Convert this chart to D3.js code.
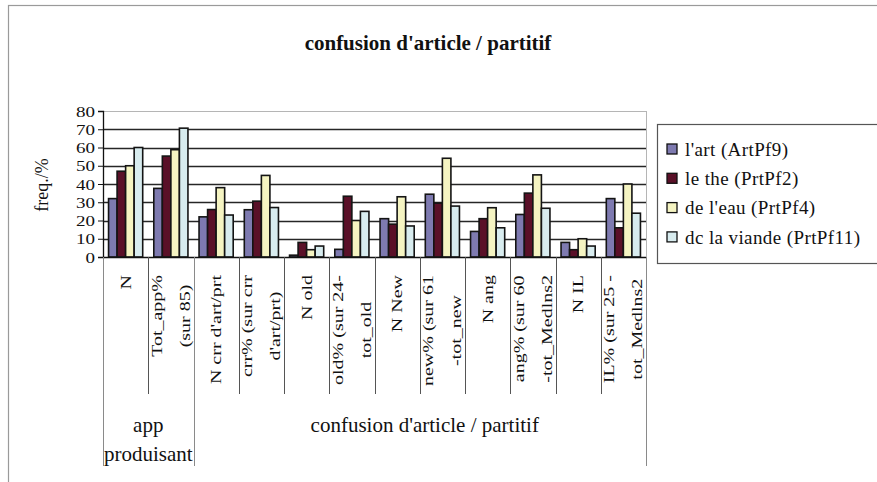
<!DOCTYPE html>
<html>
<head>
<meta charset="utf-8">
<script src="https://cdn.jsdelivr.net/npm/d3@7"></script>
<style>
  html, body { margin: 0; padding: 0; background: #ffffff; }
  svg { display: block; }
  text { font-family: "Liberation Serif", "Times New Roman", serif; fill: #111; }
</style>
</head>
<body>
<svg id="chart" width="877" height="482"></svg>
<script>
// ---- data ----
const chartTitle = "confusion d'article / partitif";
const yTitle = "freq./%";
// category labels; "\n" marks a line break in the rotated label
const categories = [
  "N",
  "Tot_app%\n(sur 85)",
  "N crr d'art/prt",
  "crr% (sur crr\nd'art/prt)",
  "N old",
  "old% (sur 24-\ntot_old",
  "N New",
  "new% (sur 61\n-tot_new",
  "N ang",
  "ang% (sur 60\n-tot_Medlns2",
  "N IL",
  "IL% (sur 25 -\ntot_Medlns2"
];
// outer category level: label and number of categories covered
const groupLabels = ["app\nproduisant", "confusion d'article / partitif"];
const groupSpans = [2, 10];

const seriesNames = ["l'art (ArtPf9)", "le the (PrtPf2)", "de l'eau (PrtPf4)", "dc la viande (PrtPf11)"];
const artPf9   = [32, 37.6, 22, 25.9, 1, 4.2, 21, 34.4, 14, 23.3, 8, 32];
const prtPf2   = [47, 55.3, 26, 30.6, 8, 33.3, 18, 29.5, 21, 35.0, 4, 16];
const prtPf4   = [50, 58.8, 38, 44.7, 4, 20.0, 33, 54.1, 27, 45.0, 10, 40];
const prtPf11  = [60, 70.6, 23, 27.1, 6, 25.0, 17, 27.9, 16, 26.7, 6, 24];
const seriesValues = [artPf9, prtPf2, prtPf4, prtPf11];
const yTicks = [0, 10, 20, 30, 40, 50, 60, 70, 80];

// ---- layout ----
const svg = d3.select("#chart");
const plot = { left: 103, right: 646, top: 111, bottom: 257 };
const colors = ["#7e7ab0", "#5a1028", "#f5f4c2", "#d8ecef"];

// outer chart frame
svg.append("rect")
  .attr("x", 8.5).attr("y", 5.5).attr("width", 880).attr("height", 490)
  .attr("fill", "none").attr("stroke", "#9a9a9a").attr("stroke-width", 1.2);

// title
svg.append("text")
  .attr("x", 428).attr("y", 50)
  .attr("text-anchor", "middle")
  .style("font-size", "21px").style("font-weight", "bold")
  .text(chartTitle);

const x0 = d3.scaleBand().domain(d3.range(categories.length))
  .range([plot.left, plot.right]).paddingInner(0).paddingOuter(0);
const x1 = d3.scaleBand().domain(d3.range(seriesNames.length))
  .range([0, x0.bandwidth()]).paddingInner(0).paddingOuter(0.65);
const y = d3.scaleLinear().domain([0, 80]).range([plot.bottom, plot.top]);

// horizontal gridlines
svg.append("g").selectAll("line")
  .data(yTicks.filter(t => t > 0))
  .join("line")
  .attr("x1", plot.left).attr("x2", plot.right)
  .attr("y1", d => Math.round(y(d)) + 0.5).attr("y2", d => Math.round(y(d)) + 0.5)
  .attr("stroke", d => d === 80 ? "#b5b5b5" : "#262626")
  .attr("stroke-width", d => d === 80 ? 1 : 1.3);

// right border of the plot area
svg.append("line")
  .attr("x1", plot.right + 0.5).attr("x2", plot.right + 0.5)
  .attr("y1", plot.top).attr("y2", plot.bottom)
  .attr("stroke", "#b5b5b5");

// bars
const barData = [];
categories.forEach((c, i) => {
  seriesValues.forEach((vals, s) => barData.push({ i, s, v: vals[i] }));
});
svg.append("g").selectAll("rect")
  .data(barData)
  .join("rect")
  .attr("x", d => x0(d.i) + x1(d.s))
  .attr("y", d => y(d.v))
  .attr("width", x1.bandwidth())
  .attr("height", d => y(0) - y(d.v))
  .attr("fill", d => colors[d.s])
  .attr("stroke", "#141414")
  .attr("stroke-width", 1.6);

// y axis
const yAxis = svg.append("g")
  .attr("transform", `translate(${plot.left},0)`)
  .call(d3.axisLeft(y).tickValues(yTicks).tickSize(5).tickPadding(0));
yAxis.select(".domain").attr("stroke", "#111").attr("stroke-width", 1.3);
yAxis.selectAll(".tick line").attr("stroke", "#111");
// tick labels: tall, narrow serif digits
yAxis.selectAll(".tick text")
  .attr("x", null).attr("dy", null)
  .attr("transform", "translate(-8,0) scale(1,0.78)")
  .attr("dy", "0.34em")
  .style("font-family", "'Liberation Serif', serif")
  .style("font-size", "19px").attr("fill", "#111");

// y axis title
svg.append("text")
  .attr("transform", "translate(48,185) rotate(-90)")
  .attr("text-anchor", "middle")
  .style("font-size", "18px")
  .text(yTitle);

// x axis line
svg.append("line")
  .attr("x1", plot.left).attr("x2", plot.right)
  .attr("y1", plot.bottom + 0.5).attr("y2", plot.bottom + 0.5)
  .attr("stroke", "#111").attr("stroke-width", 1.3);

// category separators (inner level short, group boundaries long)
const groupStarts = [0];
groupSpans.forEach((s, k) => groupStarts.push(groupStarts[k] + s));
const sepG = svg.append("g");
d3.range(categories.length + 1).forEach(i => {
  const xp = Math.round(i < categories.length ? x0(i) : plot.right) + 0.5;
  const isGroup = groupStarts.includes(i);
  sepG.append("line")
    .attr("x1", xp).attr("x2", xp)
    .attr("y1", plot.bottom).attr("y2", isGroup ? 466 : 394)
    .attr("stroke", isGroup ? "#8a8a8a" : "#555")
    .attr("stroke-width", 1);
});

// rotated category labels
const labelTop = 275;
const lineGap = 28;
const crossScale = 0.72;
categories.forEach((c, i) => {
  const lines = c.split("\n");
  const cx = x0(i) + x0.bandwidth() / 2;
  const g = svg.append("g");
  const texts = lines.map((ln, j) => {
    const off = (j - (lines.length - 1) / 2) * lineGap;
    return g.append("text")
      .attr("text-anchor", "middle")
      .attr("dy", "0.35em")
      .style("font-size", "20px")
      .datum(off)
      .text(ln);
  });
  const maxLen = d3.max(texts, t => t.node().getComputedTextLength());
  const cy = labelTop + maxLen / 2;
  texts.forEach(t => {
    t.attr("transform", `translate(${cx + t.datum()},${cy}) rotate(-90) scale(1,${crossScale})`);
  });
});

// outer category level labels
groupLabels.forEach((lbl, k) => {
  const a = x0(groupStarts[k]);
  const b = groupStarts[k + 1] < categories.length ? x0(groupStarts[k + 1]) : plot.right;
  const lines = lbl.split("\n");
  lines.forEach((ln, j) => {
    svg.append("text")
      .attr("x", (a + b) / 2 + (k === 1 ? 5 : 0))
      .attr("y", 432 + j * 29)
      .attr("text-anchor", "middle")
      .style("font-size", "21px")
      .text(ln);
  });
});

// legend
const lg = svg.append("g");
lg.append("rect")
  .attr("x", 657.5).attr("y", 124.5).attr("width", 240).attr("height", 139)
  .attr("fill", "#fff").attr("stroke", "#555").attr("stroke-width", 1.2);
seriesNames.forEach((name, s) => {
  const yy = 149 + s * 29.3;
  lg.append("rect")
    .attr("x", 667).attr("y", yy - 5).attr("width", 10).attr("height", 10)
    .attr("fill", colors[s]).attr("stroke", "#111").attr("stroke-width", 1.3);
  lg.append("text")
    .attr("x", 685).attr("y", yy)
    .attr("dy", "0.35em")
    .style("font-size", "19px")
    .style("letter-spacing", "0.4px")
    .text(name);
});
</script>
</body>
</html>
